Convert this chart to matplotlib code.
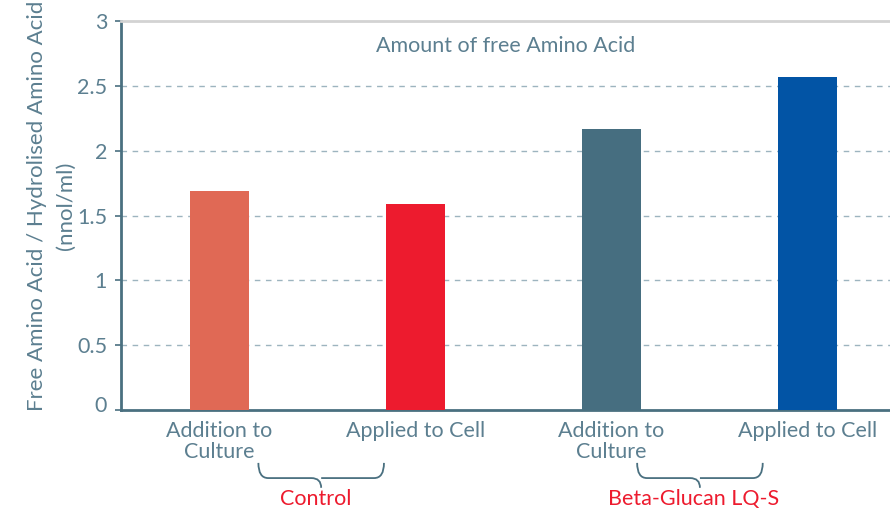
import matplotlib.pyplot as plt
from matplotlib.path import Path
from matplotlib.patches import PathPatch
from matplotlib.transforms import blended_transform_factory, offset_copy

# Data
categories = ["Addition to\nCulture", "Applied to Cell", "Addition to\nCulture", "Applied to Cell"]
values = [1.69, 1.59, 2.17, 2.57]
bar_colors = ["#E06955", "#ED1B2E", "#466E80", "#0254A5"]
groups = ["Control", "Beta-Glucan LQ-S"]
group_spans = [(0.20, 0.84), (2.13, 2.77)]

text_color = "#5C7F90"
axis_color = "#4A7080"
plt.rcParams['font.family'] = ['Lato', 'DejaVu Sans']

fig = plt.figure(figsize=(8.9, 5.12), dpi=100)
ax = fig.add_axes([121 / 890, (512 - 410) / 512, 785 / 890, 389 / 512])

x = range(len(values))
ax.bar(x, values, width=0.30, color=bar_colors, zorder=3)

ax.set_xlim(-0.5, 3.5)
ax.set_ylim(0, 3)
ax.set_yticks([0, 0.5, 1, 1.5, 2, 2.5, 3])
ax.set_yticklabels(["0", "0.5", "1", "1.5", "2", "2.5", "3"])
ax.set_xticks(list(x))
ax.set_xticklabels(categories, fontsize=15.5, color=text_color, linespacing=1.05)
ax.tick_params(axis='x', length=0, pad=8)
ax.tick_params(axis='y', length=4, width=1.2, color=axis_color, labelsize=15.5,
               labelcolor=text_color, pad=6)
# lift the zero label a little off the baseline, as in the reference
zero_lbl = ax.get_yticklabels()[0]
zero_lbl.set_transform(offset_copy(zero_lbl.get_transform(), fig=fig, y=6, units='dots'))

for yv in [0.5, 1, 1.5, 2, 2.5]:
    ax.axhline(yv, color="#9DB4BF", linestyle=(0, (4, 4)), linewidth=1, zorder=1)

ax.spines['left'].set_color(axis_color)
ax.spines['left'].set_linewidth(2)
ax.spines['bottom'].set_color(axis_color)
ax.spines['bottom'].set_linewidth(2)
ax.spines['top'].set_color("#D3D3D3")
ax.spines['top'].set_linewidth(2)
ax.spines['right'].set_visible(False)

ax.text(0.49, 0.935, "Amount of free Amino Acid", transform=ax.transAxes,
        ha='center', va='center', fontsize=15.5, color=text_color)

fig.text(0.058, 0.598, "Free Amino Acid / Hydrolised Amino Acid\n(nnol/ml)",
         rotation=90, ha='center', va='center', fontsize=16, color=text_color,
         linespacing=1.55)

# Group braces
trans = blended_transform_factory(ax.transData, ax.transAxes)
y_top, y_mid, y_tip = -0.136, -0.175, -0.2
for (x0, x1), name in zip(group_spans, groups):
    xm = (x0 + x1) / 2
    r = 0.05
    verts = [(x0, y_top), (x0, y_mid), (x0 + r, y_mid), (x0 + r, y_mid),
             (xm - r, y_mid), (xm, y_mid), (xm, y_tip),
             (xm, y_mid), (xm + r, y_mid), (xm + r, y_mid),
             (x1 - r, y_mid), (x1, y_mid), (x1, y_top)]
    codes = [Path.MOVETO, Path.CURVE3, Path.CURVE3, Path.LINETO,
             Path.LINETO, Path.CURVE3, Path.CURVE3,
             Path.MOVETO, Path.CURVE3, Path.LINETO,
             Path.LINETO, Path.CURVE3, Path.CURVE3]
    patch = PathPatch(Path(verts, codes), facecolor='none', edgecolor=axis_color,
                      linewidth=1.3, transform=trans, clip_on=False)
    ax.add_patch(patch)
    ax.text(xm - 0.03, -0.228, name, transform=trans, ha='center', va='center',
            fontsize=15.5, color="#ED1B2E")

fig.savefig("out.png", dpi=100)
